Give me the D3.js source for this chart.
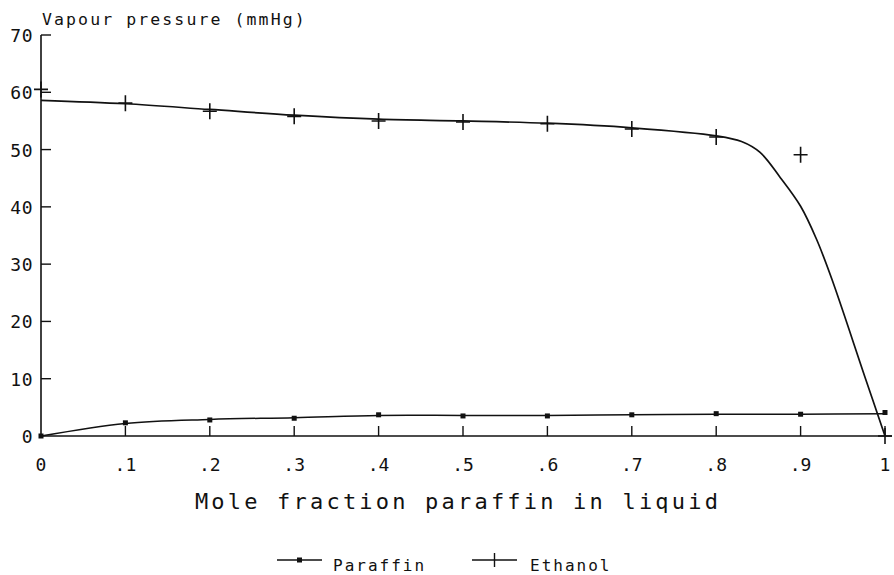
<!DOCTYPE html>
<html>
<head>
<meta charset="utf-8">
<script src="https://cdn.jsdelivr.net/npm/d3@7"></script>
<style>
  body { margin: 0; background: #fff; }
  svg { display: block; }
  text { font-family: "DejaVu Sans Mono", monospace; fill: #111; }
</style>
</head>
<body>
<svg width="894" height="575"></svg>
<script>
// measured points (markers)
const xMarks = [0, .1, .2, .3, .4, .5, .6, .7, .8, .9, 1];
const paraffin = [0, 2.3, 2.8, 3.1, 3.7, 3.5, 3.5, 3.7, 3.9, 3.8, 4.1];
const ethanol = [60.5, 58.1, 56.7, 55.8, 55.0, 54.8, 54.5, 53.6, 52.2, 49.1, 0];

// fitted curves
const paraffinFitX = [0, .1, .2, .3, .4, .5, .6, .7, .8, .9, 1];
const paraffinFitY = [0, 2.2, 2.9, 3.2, 3.6, 3.6, 3.6, 3.7, 3.8, 3.8, 3.9];
const ethanolFitX = [0, .1, .2, .3, .4, .5, .6, .7, .8, .83, .852, .876, .9, .919, .937, .976, 1];
const ethanolFitY = [58.6, 58.0, 57.0, 56.0, 55.3, 55.0, 54.6, 53.8, 52.4, 51.4, 49.5, 45.1, 40.1, 34.3, 27.4, 10.4, 0];

const xTicks = [0, .1, .2, .3, .4, .5, .6, .7, .8, .9, 1];
const xTickLabels = ["0", ".1", ".2", ".3", ".4", ".5", ".6", ".7", ".8", ".9", "1"];
const yTicks = [0, 10, 20, 30, 40, 50, 60, 70];

const svg = d3.select("svg");
const x = d3.scaleLinear().domain([0, 1]).range([41, 885]);
const y = d3.scaleLinear().domain([0, 70]).range([436, 35]);

const ink = "#111";

// y axis
svg.append("line")
    .attr("x1", x(0)).attr("x2", x(0))
    .attr("y1", y(0)).attr("y2", y(70))
    .attr("stroke", ink).attr("stroke-width", 1.6);
svg.append("g").selectAll("line")
    .data(yTicks.filter(d => d > 0))
    .enter().append("line")
    .attr("x1", x(0)).attr("x2", x(0) + 10)
    .attr("y1", d => y(d)).attr("y2", d => y(d))
    .attr("stroke", ink).attr("stroke-width", 1.4);
svg.append("g").selectAll("text")
    .data(yTicks)
    .enter().append("text")
    .attr("x", 33).attr("y", d => y(d) + 7)
    .attr("text-anchor", "end")
    .attr("font-size", 18)
    .attr("letter-spacing", 0.5)
    .text(d => d);

// x axis
svg.append("line")
    .attr("x1", x(0)).attr("x2", 892)
    .attr("y1", y(0)).attr("y2", y(0))
    .attr("stroke", ink).attr("stroke-width", 1.4);
svg.append("g").selectAll("line")
    .data(xTicks.filter(d => d > 0))
    .enter().append("line")
    .attr("x1", d => x(d)).attr("x2", d => x(d))
    .attr("y1", y(0)).attr("y2", y(0) - 10)
    .attr("stroke", ink).attr("stroke-width", 1.4);
svg.append("g").selectAll("text")
    .data(xTicks)
    .enter().append("text")
    .attr("x", d => x(d)).attr("y", 471)
    .attr("text-anchor", "middle")
    .attr("font-size", 18)
    .text((d, i) => xTickLabels[i]);

// titles
svg.append("text")
    .attr("x", 42).attr("y", 25)
    .attr("font-size", 16.5)
    .attr("letter-spacing", 2.1)
    .text("Vapour pressure (mmHg)");
svg.append("text")
    .attr("x", 458).attr("y", 509)
    .attr("text-anchor", "middle")
    .attr("font-size", 22)
    .attr("letter-spacing", 3.2)
    .text("Mole fraction paraffin in liquid");

// curves
const line = d3.line()
    .x(d => x(d[0]))
    .y(d => y(d[1]))
    .curve(d3.curveCatmullRom.alpha(0.5));

svg.append("path")
    .datum(paraffinFitX.map((d, i) => [d, paraffinFitY[i]]))
    .attr("d", line)
    .attr("fill", "none").attr("stroke", ink).attr("stroke-width", 1.5);
svg.append("path")
    .datum(ethanolFitX.map((d, i) => [d, ethanolFitY[i]]))
    .attr("d", line)
    .attr("fill", "none").attr("stroke", ink).attr("stroke-width", 1.7);

// markers
svg.append("g").selectAll("rect")
    .data(xMarks.map((d, i) => [d, paraffin[i]]))
    .enter().append("rect")
    .attr("x", d => x(d[0]) - 2.5).attr("y", d => y(d[1]) - 2.5)
    .attr("width", 5).attr("height", 5)
    .attr("fill", ink);

svg.append("g").selectAll("path")
    .data(xMarks.map((d, i) => [d, ethanol[i]]))
    .enter().append("path")
    .attr("d", d => {
      const cx = x(d[0]), cy = y(d[1]);
      return `M${cx - 7},${cy}H${cx + 7}M${cx},${cy - 8}V${cy + 8}`;
    })
    .attr("stroke", ink).attr("stroke-width", 1.6).attr("fill", "none");

// legend
const legend = svg.append("g");
legend.append("line")
    .attr("x1", 277).attr("x2", 322).attr("y1", 560).attr("y2", 560)
    .attr("stroke", ink).attr("stroke-width", 1.4);
legend.append("rect")
    .attr("x", 297).attr("y", 557.5).attr("width", 5).attr("height", 5)
    .attr("fill", ink);
legend.append("text")
    .attr("x", 333).attr("y", 571)
    .attr("font-size", 16).attr("letter-spacing", 2)
    .text("Paraffin");
legend.append("line")
    .attr("x1", 472).attr("x2", 517).attr("y1", 560).attr("y2", 560)
    .attr("stroke", ink).attr("stroke-width", 1.4);
legend.append("line")
    .attr("x1", 494.5).attr("x2", 494.5).attr("y1", 553).attr("y2", 567)
    .attr("stroke", ink).attr("stroke-width", 1.4);
legend.append("text")
    .attr("x", 530).attr("y", 571)
    .attr("font-size", 16).attr("letter-spacing", 2)
    .text("Ethanol");
</script>
</body>
</html>
